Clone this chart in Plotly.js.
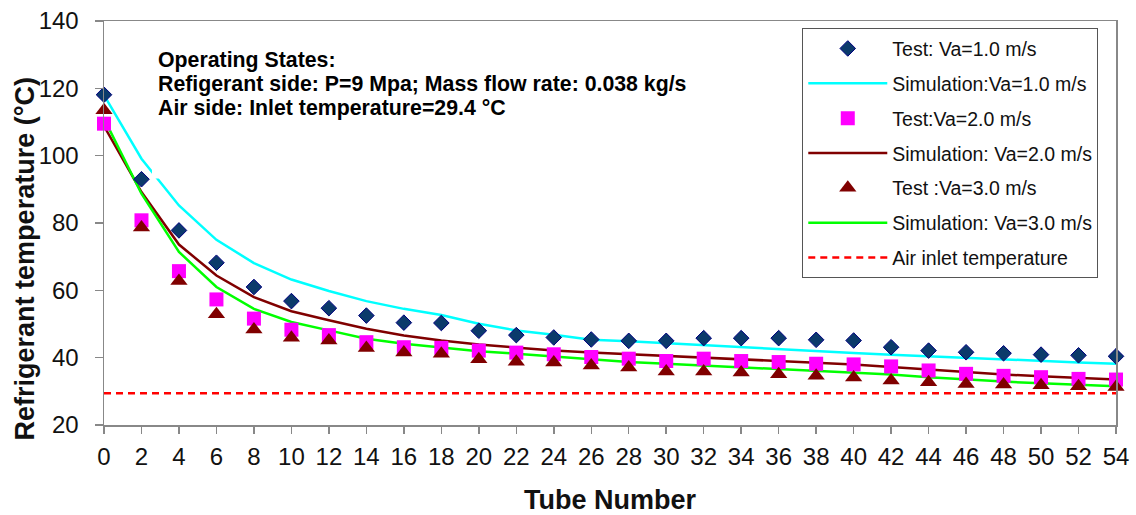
<!DOCTYPE html>
<html>
<head>
<meta charset="utf-8">
<script src="https://cdn.plot.ly/plotly-3.0.1.min.js"></script>
<style>html,body{margin:0;padding:0;background:#fff;}#chart{width:1136px;height:515px;}</style>
</head>
<body>
<div id="chart"></div>
<script>
const tubes = [0,2,4,6,8,10,12,14,16,18,20,22,24,26,28,30,32,34,36,38,40,42,44,46,48,50,52,54];

const testVa1 = [118.1,93.0,77.8,68.2,61.0,56.8,54.7,52.5,50.4,50.3,48.0,46.7,46.0,45.4,45.0,45.0,45.8,45.8,45.8,45.3,45.1,43.1,42.1,41.6,41.3,40.9,40.7,40.4];
const testVa2 = [109.5,80.8,65.7,57.3,51.6,48.3,46.7,44.6,43.1,42.9,42.1,41.5,41.0,40.2,39.7,39.0,39.7,39.0,38.7,38.2,38.0,37.4,36.2,35.2,34.6,34.2,33.7,33.5];
const testVa3 = [113.5,78.7,62.8,52.9,48.4,45.9,45.1,42.9,41.5,41.2,39.5,38.8,38.6,37.7,37.1,35.9,35.9,35.6,35.1,34.6,34.1,33.2,32.7,32.2,32.0,31.8,31.5,31.3];

const simVa1 = [118.0,99.1,85.2,75.0,68.1,63.2,59.8,56.8,54.5,52.7,50.1,48.1,46.8,45.3,44.9,44.3,43.6,43.1,42.5,41.8,41.4,40.9,40.4,39.9,39.4,39.0,38.6,38.2];
const simVa2 = [108.8,89.2,73.6,64.4,58.0,53.8,51.1,48.6,46.6,45.1,43.9,42.9,42.1,41.5,41.0,40.4,40.0,39.5,39.0,38.5,38.0,37.2,36.4,35.7,35.0,34.5,33.9,33.5];
const simVa3 = [111.0,88.7,71.4,61.0,54.5,50.6,48.1,45.6,44.1,42.9,41.9,41.2,40.4,39.4,38.7,38.2,37.7,37.2,36.7,36.2,35.7,35.0,34.2,33.5,32.9,32.4,31.9,31.5];

const airTubes = [0,54];
const airInlet = [29.4,29.4];

const xRange = [0, 54];
const yRange = [20, 140];

const seriesNames = [
  "Test: Va=1.0 m/s",
  "Simulation:Va=1.0 m/s",
  "Test:Va=2.0 m/s",
  "Simulation: Va=2.0 m/s",
  "Test :Va=3.0 m/s",
  "Simulation: Va=3.0 m/s",
  "Air inlet temperature"
];

const noteLines = [
  "Operating States:",
  "Refigerant side: P=9 Mpa; Mass flow rate: 0.038 kg/s",
  "Air side: Inlet temperature=29.4 °C"
];

const xTitle = "Tube Number";
const yTitle = "Refrigerant temperature (°C)";

const FONT = "Liberation Sans, Arial, Helvetica, sans-serif";
const AXIS_GREY = "#888";

const traces = [
  {x: tubes, y: simVa1, name: seriesNames[1], mode: "lines", line: {color: "#00FFFF", width: 2.5}, legendrank: 2, legendgroup: "g2"},
  {x: tubes, y: simVa2, name: seriesNames[3], mode: "lines", line: {color: "#800000", width: 2.5}, legendrank: 4, legendgroup: "g4"},
  {x: tubes, y: simVa3, name: seriesNames[5], mode: "lines", line: {color: "#00FF00", width: 2.5}, legendrank: 6, legendgroup: "g6"},
  {x: tubes, y: testVa2, name: seriesNames[2], mode: "markers", cliponaxis: false,
   marker: {symbol: "square", size: 14, color: "#FF00FF", line: {color: "#FF00FF", width: 0}}, legendrank: 3, legendgroup: "g3"},
  {x: tubes, y: testVa3, name: seriesNames[4], mode: "markers", cliponaxis: false,
   marker: {symbol: "triangle-up", size: 15, color: "#800000", line: {color: "#800000", width: 0}}, legendrank: 5, legendgroup: "g5"},
  {x: tubes, y: testVa1, name: seriesNames[0], mode: "markers", cliponaxis: false,
   marker: {symbol: "diamond", size: 12, color: "#0B3A6B", line: {color: "#000080", width: 1}}, legendrank: 1, legendgroup: "g1"},
  {x: airTubes, y: airInlet, name: seriesNames[6], mode: "lines", xaxis: "x2", yaxis: "y2",
   line: {color: "#FF0000", width: 2.5, dash: "7px,5px"}, legendrank: 7, legendgroup: "g7"}
];

const annY = [0.904, 0.844, 0.784];
const annotations = noteLines.map((t, i) => ({
  text: "<b>" + t + "</b>", xref: "paper", yref: "paper", x: 0.051, y: annY[i],
  xanchor: "left", yanchor: "middle", showarrow: false,
  font: {family: FONT, size: 21.3, color: "#000"}
}));
annotations.push({
  text: "<b>" + yTitle + "</b>", xref: "paper", yref: "paper", x: -0.078, y: 0.41,
  xanchor: "center", yanchor: "middle", textangle: -90, showarrow: false,
  font: {family: FONT, size: 27, color: "#111"}
});

const layout = {
  width: 1136, height: 515,
  margin: {l: 104, r: 20, t: 21, b: 90},
  paper_bgcolor: "#fff", plot_bgcolor: "#fff",
  font: {family: FONT, color: "#111"},
  showlegend: true,
  legend: {
    x: 0.69, y: 0.982, xanchor: "left", yanchor: "top",
    bgcolor: "#fff", bordercolor: "#555", borderwidth: 1,
    font: {family: FONT, size: 19.5, color: "#111"},
    traceorder: "grouped", tracegroupgap: 6.5, itemwidth: 79
  },
  xaxis: {
    range: xRange, tickmode: "linear", tick0: 0, dtick: 2,
    showline: true, linecolor: AXIS_GREY, linewidth: 1.5, mirror: true,
    ticks: "outside", ticklen: 10, tickcolor: "rgba(0,0,0,0)", tickwidth: 1,
    tickfont: {family: FONT, size: 24, color: "#111"},
    showgrid: false, zeroline: false,
    title: {text: "<b>" + xTitle + "</b>", font: {family: FONT, size: 27, color: "#111"}, standoff: 24}
  },
  yaxis: {
    range: yRange, tickmode: "linear", tick0: 20, dtick: 20,
    showline: true, linecolor: AXIS_GREY, linewidth: 1.5, mirror: true,
    ticks: "outside", ticklen: 19, tickcolor: "rgba(0,0,0,0)", tickwidth: 1,
    tickfont: {family: FONT, size: 24, color: "#111"},
    showgrid: false, zeroline: false
  },
  xaxis2: {
    range: xRange, overlaying: "x", side: "bottom", tickmode: "linear", tick0: 0, dtick: 2,
    showline: false, ticks: "outside", ticklen: 8, tickcolor: AXIS_GREY, tickwidth: 1.5,
    showticklabels: false, showgrid: false, zeroline: false
  },
  yaxis2: {
    range: yRange, overlaying: "y", side: "left", tickmode: "linear", tick0: 20, dtick: 20,
    showline: false, ticks: "outside", ticklen: 8, tickcolor: AXIS_GREY, tickwidth: 1.5,
    showticklabels: false, showgrid: false, zeroline: false
  },
  shapes: [{
    type: "rect", xref: "paper", yref: "paper", layer: "above",
    x0: 0.0474, x1: 0.585, y0: 0.61, y1: 0.975,
    fillcolor: "#fff", line: {width: 0}
  }],
  annotations: annotations
};

Plotly.newPlot("chart", traces, layout, {displayModeBar: false, staticPlot: true});
</script>
</body>
</html>
